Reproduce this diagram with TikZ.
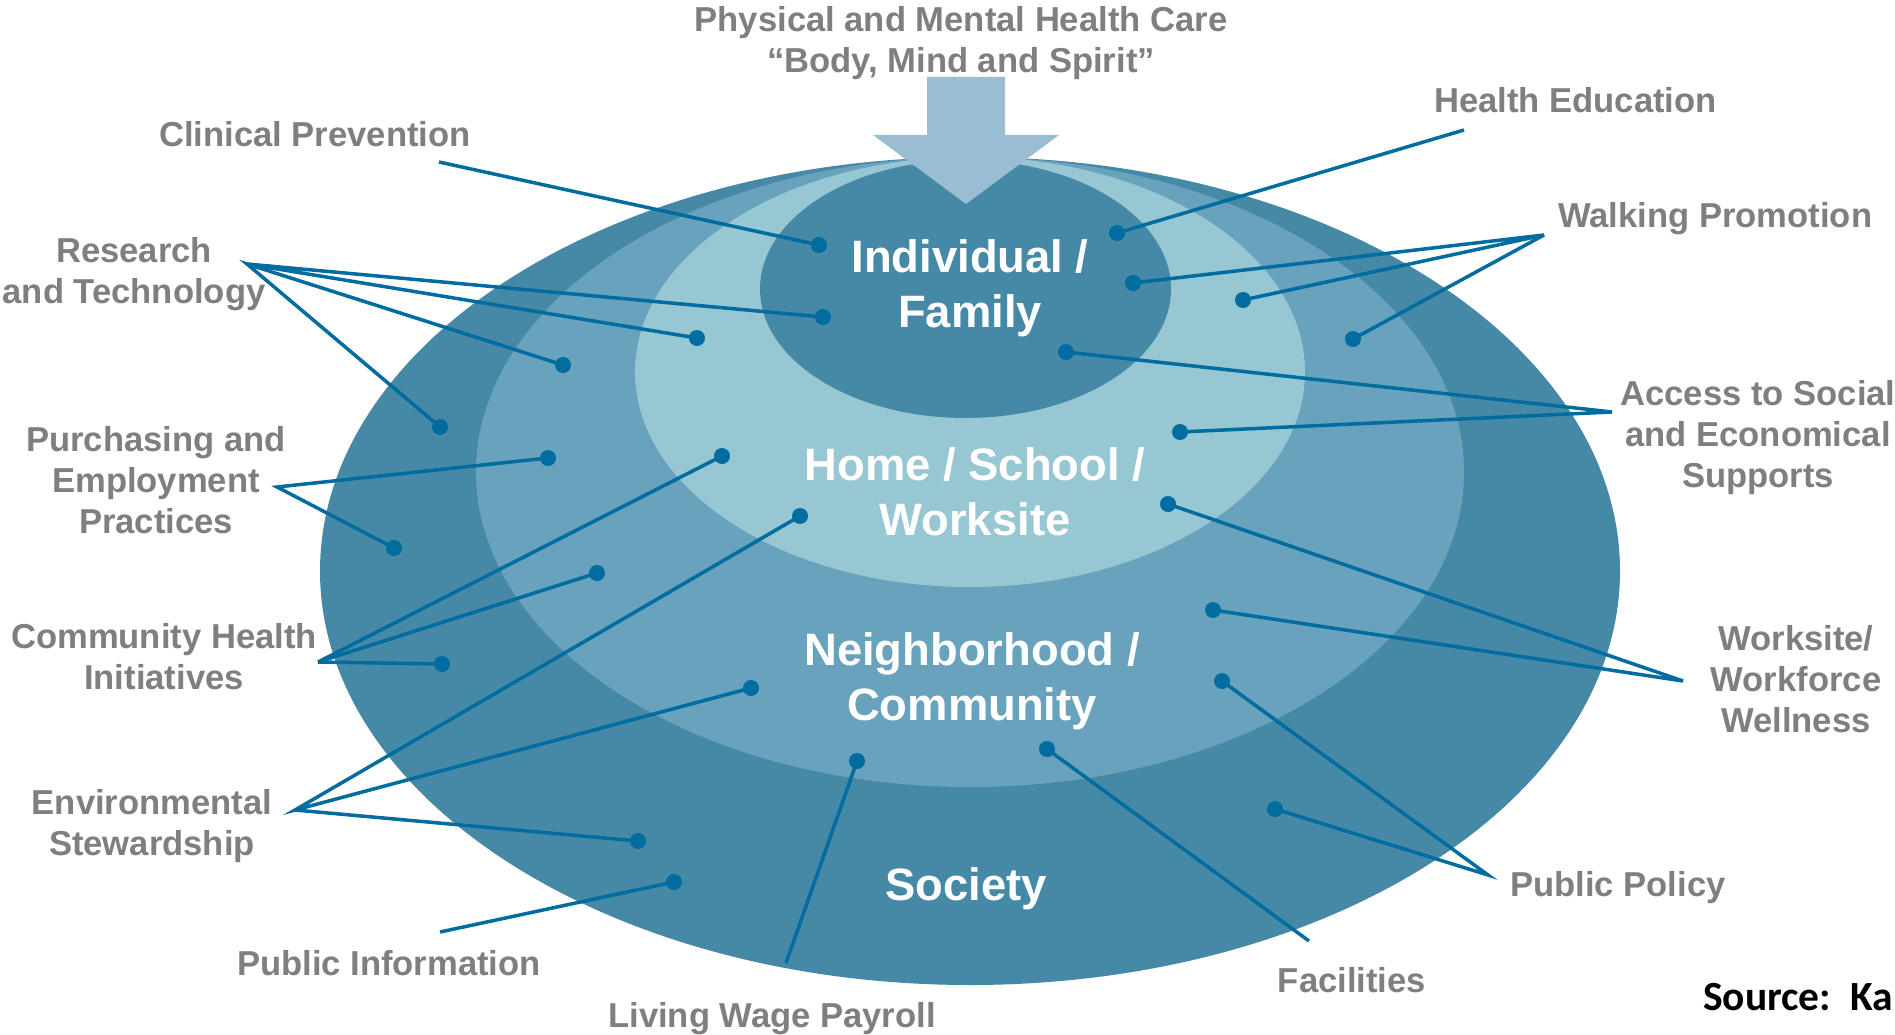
\documentclass[tikz,border=0pt]{standalone}
\usepackage{fontspec}
\setmainfont{Liberation Sans}
\newfontfamily\srcfont{Carlito}
\usetikzlibrary{shapes.geometric}
\definecolor{ringdark}{HTML}{4689A6}
\definecolor{ringmid}{HTML}{68A2BD}
\definecolor{ringlight}{HTML}{97C7D2}
\definecolor{arrowc}{HTML}{9BBDD3}
\definecolor{linec}{HTML}{006CA0}
\definecolor{labelgray}{HTML}{7F7F7F}
\tikzset{
  ring/.style={ellipse, inner sep=0pt, draw=none},
  lbl/.style={text=labelgray, font=\fontsize{34.6}{41}\selectfont\bfseries, inner sep=0pt, align=center},
  biglbl/.style={text=white, font=\fontsize{45.4}{55}\selectfont\bfseries, inner sep=0pt, align=center},
  con/.style={draw=linec, line width=3.5pt},
  enddot/.style={circle, fill=linec, minimum size=16pt, inner sep=0pt, draw=none}
}
\begin{document}
\begin{tikzpicture}[x=1pt,y=-1pt]
\useasboundingbox (0,0) rectangle (1895,1035);
\clip (0,0) rectangle (1895,1035);
\fill[white] (0,0) rectangle (1895,1035);

% rings
\node[ring, fill=ringdark, minimum width=1300pt, minimum height=828pt] (society) at (970,571) {};
\node[ring, fill=ringmid, minimum width=988pt, minimum height=630pt] (neigh) at (970,472) {};
\node[ring, fill=ringlight, minimum width=670pt, minimum height=430pt] (home) at (970,372) {};
\node[ring, fill=ringdark, minimum width=411pt, minimum height=258pt] (indiv) at (965.5,289) {};

% arrow
\fill[arrowc] (927,77) -- (1005,77) -- (1005,135) -- (1059,135) -- (966,204) -- (873,135) -- (927,135) -- cycle;

% ring labels
\node[biglbl, anchor=north] (tindiv) at (970,239) {Individual /\\Family};
\node[biglbl, anchor=north] (thome) at (975,447) {Home / School /\\Worksite};
\node[biglbl, anchor=north] (tneigh) at (972,632) {Neighborhood /\\Community};
\node[biglbl, anchor=base] (tsoc) at (966,900) {Society};

% outer labels
\node[lbl, anchor=north] (title) at (961,5.8) {Physical and Mental Health Care\\“Body, Mind and Spirit”};
\node[lbl, anchor=base] (clin) at (315,147) {Clinical Prevention};
\node[lbl, anchor=north] (res) at (134,236.8) {Research\\and Technology};
\node[lbl, anchor=north] (purch) at (156,425.8) {Purchasing and\\Employment\\Practices};
\node[lbl, anchor=north] (comm) at (164,622.8) {Community Health\\Initiatives};
\node[lbl, anchor=north] (env) at (152,788.8) {Environmental\\Stewardship};
\node[lbl, anchor=base] (pinfo) at (389,975) {Public Information};
\node[lbl, anchor=base] (wage) at (772,1027) {Living Wage Payroll};
\node[lbl, anchor=base] (fac) at (1352,992) {Facilities};
\node[lbl, anchor=base west] (ppol) at (1510,896) {Public Policy};
\node[lbl, anchor=north] (work) at (1796,624.8) {Worksite/\\Workforce\\Wellness};
\node[lbl, anchor=north] (access) at (1758,379.8) {Access to Social\\and Economical\\Supports};
\node[lbl, anchor=base west] (walk) at (1558,228) {Walking Promotion};
\node[lbl, anchor=base west] (hedu) at (1434,113) {Health Education};
\node[anchor=base west, inner sep=0pt, font=\srcfont\fontsize{41.5}{48}\selectfont\bfseries] (src) at (1703,1010) {Source:~~Ka};

% hubs / line starts
\coordinate (hclin) at (439,162);
\coordinate (hres) at (247,264);
\coordinate (hpur) at (277,487);
\coordinate (hcom) at (318,662);
\coordinate (henv) at (295,810);
\coordinate (hpinfo) at (440,932);
\coordinate (hwage) at (786,963);
\coordinate (hfac) at (1309,941);
\coordinate (hpol) at (1488,875);
\coordinate (hwork) at (1683,681);
\coordinate (hacc) at (1612,412);
\coordinate (hwalk) at (1544,235);
\coordinate (hedu) at (1464,130);

% dots
\node[enddot] (dclin) at (819,245) {};
\node[enddot] (dres1) at (823,317) {};
\node[enddot] (dres2) at (697,338) {};
\node[enddot] (dres3) at (563,365) {};
\node[enddot] (dres4) at (440,427) {};
\node[enddot] (dpur1) at (548,458) {};
\node[enddot] (dpur2) at (394,548) {};
\node[enddot] (dcom1) at (722,456) {};
\node[enddot] (dcom2) at (597,573) {};
\node[enddot] (dcom3) at (442,664) {};
\node[enddot] (denv1) at (800,516) {};
\node[enddot] (denv2) at (751,688) {};
\node[enddot] (denv3) at (638,841) {};
\node[enddot] (dpinfo) at (674,882) {};
\node[enddot] (dwage) at (857,761) {};
\node[enddot] (dfac) at (1047,749) {};
\node[enddot] (dpol1) at (1222,681) {};
\node[enddot] (dpol2) at (1275,809) {};
\node[enddot] (dwork1) at (1213,610) {};
\node[enddot] (dwork2) at (1168,504) {};
\node[enddot] (dacc1) at (1066,352) {};
\node[enddot] (dacc2) at (1180,432) {};
\node[enddot] (dwalk1) at (1133,283) {};
\node[enddot] (dwalk2) at (1243,300) {};
\node[enddot] (dwalk3) at (1353,339) {};
\node[enddot] (dedu) at (1117,233) {};

% connectors
\draw[con] (hclin) -- (dclin.center);
\draw[con] (dres1.center) -- (hres) -- (dres2.center);
\draw[con] (dres3.center) -- (hres) -- (dres4.center);
\draw[con] (dpur1.center) -- (hpur) -- (dpur2.center);
\draw[con] (dcom1.center) -- (hcom) -- (dcom2.center);
\draw[con] (hcom) -- (dcom3.center);
\draw[con] (denv1.center) -- (henv) -- (denv2.center);
\draw[con] (henv) -- (denv3.center);
\draw[con] (hpinfo) -- (dpinfo.center);
\draw[con] (hwage) -- (dwage.center);
\draw[con] (hfac) -- (dfac.center);
\draw[con] (dpol1.center) -- (hpol) -- (dpol2.center);
\draw[con] (dwork1.center) -- (hwork) -- (dwork2.center);
\draw[con] (dacc1.center) -- (hacc) -- (dacc2.center);
\draw[con] (dwalk1.center) -- (hwalk) -- (dwalk2.center);
\draw[con] (hwalk) -- (dwalk3.center);
\draw[con] (hedu) -- (dedu.center);
\end{tikzpicture}
\end{document}
